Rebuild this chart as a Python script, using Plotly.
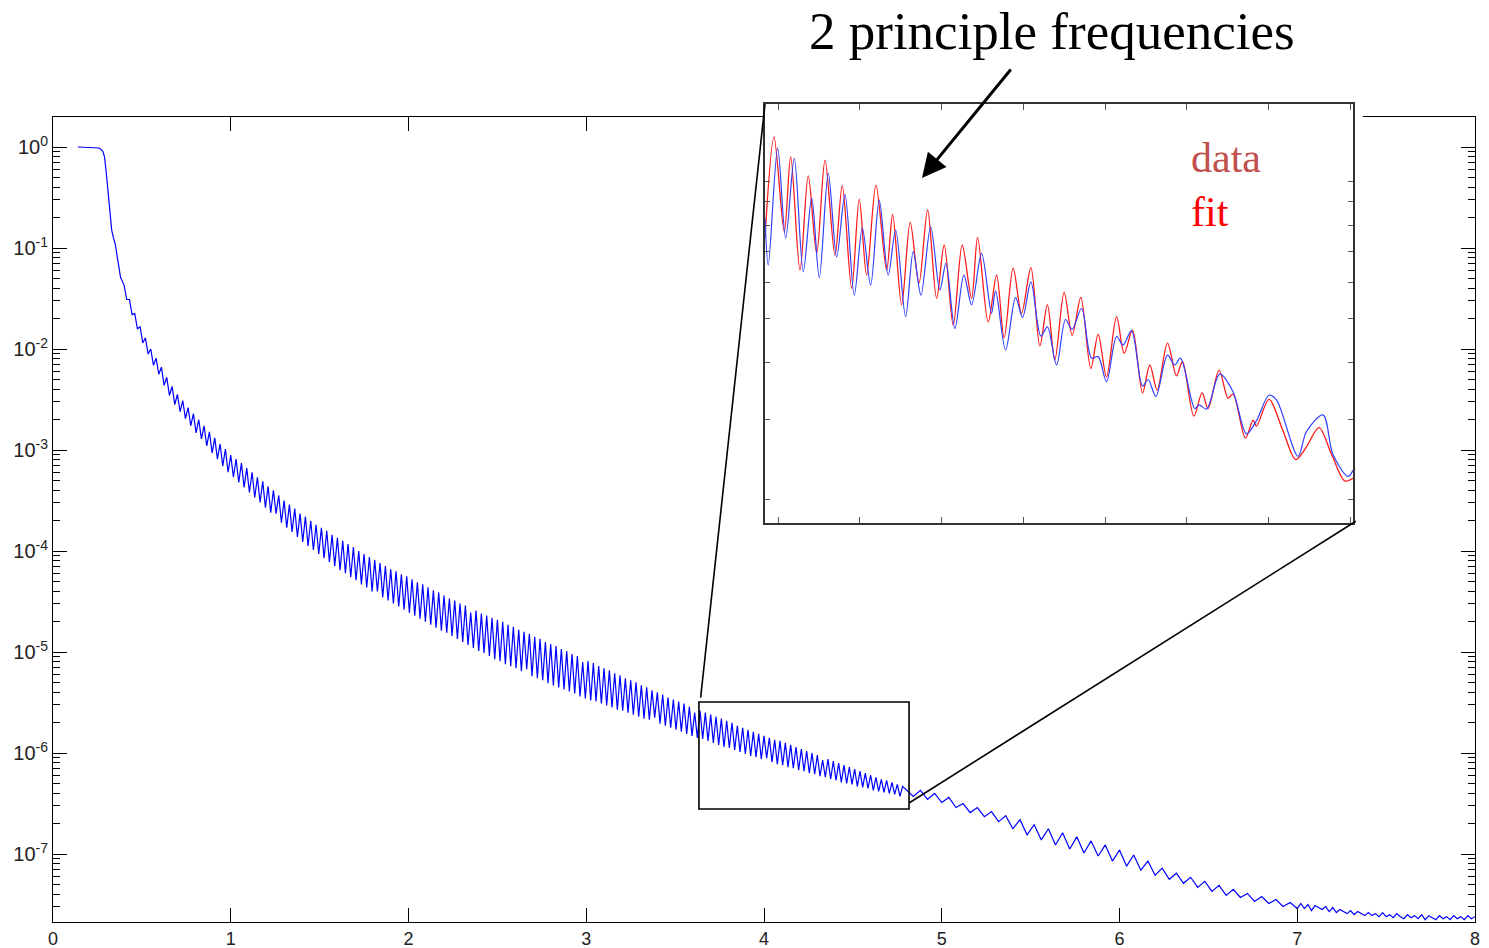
import math
import plotly.graph_objects as go

# ---------------- data ----------------
# main curve: initial plateau and steep drop
x_drop = [0.14, 0.17, 0.20, 0.23, 0.26, 0.28, 0.29, 0.30, 0.31, 0.32, 0.33, 0.34, 0.35, 0.36, 0.37, 0.38, 0.39]
log10y_drop = [0.0, -0.002, 0.0, -0.004, -0.01, -0.04, -0.10, -0.26, -0.47, -0.69, -0.82, -0.90, -0.96, -1.07, -1.20, -1.29, -1.33]

# main curve: dense oscillating decay (peak / trough alternating)
x_dense = [
    0.400, 0.415, 0.430, 0.445, 0.460, 0.475, 0.490, 0.505, 0.520, 0.535,
    0.550, 0.565, 0.580, 0.595, 0.610, 0.625, 0.640, 0.655, 0.670, 0.685,
    0.700, 0.715, 0.730, 0.745, 0.760, 0.775, 0.790, 0.805, 0.820, 0.835,
    0.850, 0.865, 0.880, 0.895, 0.910, 0.925, 0.940, 0.955, 0.970, 0.985,
    1.000, 1.015, 1.030, 1.045, 1.060, 1.075, 1.090, 1.105, 1.120, 1.135,
    1.150, 1.165, 1.180, 1.195, 1.210, 1.225, 1.240, 1.255, 1.270, 1.285,
    1.300, 1.315, 1.330, 1.345, 1.360, 1.375, 1.390, 1.405, 1.420, 1.435,
    1.450, 1.465, 1.480, 1.495, 1.510, 1.525, 1.540, 1.555, 1.570, 1.585,
    1.600, 1.615, 1.630, 1.645, 1.660, 1.675, 1.690, 1.705, 1.720, 1.735,
    1.750, 1.765, 1.780, 1.795, 1.810, 1.825, 1.840, 1.855, 1.870, 1.885,
    1.900, 1.915, 1.930, 1.945, 1.960, 1.975, 1.990, 2.005, 2.020, 2.035,
    2.050, 2.065, 2.080, 2.095, 2.110, 2.125, 2.140, 2.155, 2.170, 2.185,
    2.200, 2.215, 2.230, 2.245, 2.260, 2.275, 2.290, 2.305, 2.320, 2.335,
    2.350, 2.365, 2.380, 2.395, 2.410, 2.425, 2.440, 2.455, 2.470, 2.485,
    2.500, 2.515, 2.530, 2.545, 2.560, 2.575, 2.590, 2.605, 2.620, 2.635,
    2.650, 2.665, 2.680, 2.695, 2.710, 2.725, 2.740, 2.755, 2.770, 2.785,
    2.800, 2.815, 2.830, 2.845, 2.860, 2.875, 2.890, 2.905, 2.920, 2.935,
    2.950, 2.965, 2.980, 2.995, 3.010, 3.025, 3.040, 3.055, 3.070, 3.085,
    3.100, 3.115, 3.130, 3.145, 3.160, 3.175, 3.190, 3.205, 3.220, 3.235,
    3.250, 3.265, 3.280, 3.295, 3.310, 3.325, 3.340, 3.355, 3.370, 3.385,
    3.400, 3.415, 3.430, 3.445, 3.460, 3.475, 3.490, 3.505, 3.520, 3.535,
    3.550, 3.565, 3.580, 3.595, 3.610, 3.625, 3.640, 3.655, 3.670, 3.685,
    3.700, 3.715, 3.730, 3.745, 3.760, 3.775, 3.790, 3.805, 3.820, 3.835,
    3.850, 3.865, 3.880, 3.895, 3.910, 3.925, 3.940, 3.955, 3.970, 3.985,
    4.000, 4.015, 4.030, 4.045, 4.060, 4.075, 4.090, 4.105, 4.120, 4.135,
    4.150, 4.165, 4.180, 4.195, 4.210, 4.225, 4.240, 4.255, 4.270, 4.285,
    4.300, 4.315, 4.330, 4.345, 4.360, 4.375, 4.390, 4.405, 4.420, 4.435,
    4.450, 4.465, 4.480, 4.495, 4.510, 4.525, 4.540, 4.555, 4.570, 4.585,
    4.600, 4.615, 4.630, 4.645, 4.660, 4.675, 4.690, 4.705, 4.720, 4.735,
    4.750, 4.765, 4.780,
]
log10y_dense = [
    -1.37, -1.51, -1.51, -1.66, -1.65, -1.80, -1.78, -1.94, -1.89, -2.05,
    -2.00, -2.16, -2.09, -2.25, -2.18, -2.36, -2.28, -2.46, -2.37, -2.55,
    -2.45, -2.62, -2.51, -2.69, -2.58, -2.76, -2.64, -2.83, -2.70, -2.89,
    -2.76, -2.96, -2.82, -3.03, -2.88, -3.09, -2.94, -3.16, -2.99, -3.22,
    -3.05, -3.27, -3.09, -3.32, -3.13, -3.37, -3.18, -3.42, -3.22, -3.47,
    -3.27, -3.52, -3.31, -3.57, -3.36, -3.62, -3.40, -3.63, -3.45, -3.72,
    -3.50, -3.77, -3.54, -3.81, -3.58, -3.86, -3.63, -3.91, -3.66, -3.95,
    -3.70, -3.99, -3.74, -4.03, -3.77, -4.07, -3.80, -4.11, -3.84, -4.15,
    -3.87, -4.19, -3.90, -4.22, -3.93, -4.26, -3.96, -4.29, -4.00, -4.33,
    -4.03, -4.36, -4.06, -4.40, -4.09, -4.40, -4.12, -4.46, -4.15, -4.49,
    -4.18, -4.52, -4.20, -4.55, -4.23, -4.58, -4.25, -4.61, -4.28, -4.64,
    -4.31, -4.67, -4.33, -4.70, -4.36, -4.73, -4.39, -4.76, -4.41, -4.79,
    -4.44, -4.81, -4.47, -4.84, -4.49, -4.87, -4.52, -4.90, -4.54, -4.93,
    -4.61, -4.96, -4.59, -4.99, -4.62, -5.01, -4.64, -5.04, -4.66, -5.07,
    -4.68, -5.09, -4.70, -5.12, -4.73, -5.14, -4.75, -5.16, -4.78, -5.19,
    -4.80, -5.17, -4.82, -5.24, -4.85, -5.26, -4.87, -5.28, -4.90, -5.31,
    -4.92, -5.33, -4.94, -5.35, -4.97, -5.37, -4.99, -5.39, -5.02, -5.41,
    -5.04, -5.44, -5.10, -5.46, -5.09, -5.48, -5.11, -5.49, -5.14, -5.51,
    -5.16, -5.53, -5.18, -5.55, -5.21, -5.57, -5.23, -5.58, -5.26, -5.60,
    -5.28, -5.62, -5.30, -5.64, -5.33, -5.66, -5.35, -5.67, -5.38, -5.65,
    -5.40, -5.71, -5.42, -5.73, -5.45, -5.75, -5.47, -5.77, -5.49, -5.79,
    -5.51, -5.81, -5.54, -5.83, -5.60, -5.85, -5.58, -5.86, -5.60, -5.88,
    -5.62, -5.90, -5.64, -5.92, -5.66, -5.94, -5.68, -5.95, -5.70, -5.97,
    -5.73, -5.99, -5.75, -6.01, -5.77, -6.03, -5.79, -6.04, -5.81, -6.06,
    -5.83, -6.05, -5.85, -6.09, -5.87, -6.11, -5.88, -6.12, -5.90, -6.14,
    -5.92, -6.15, -5.94, -6.17, -5.96, -6.18, -5.98, -6.20, -6.00, -6.21,
    -6.02, -6.23, -6.07, -6.24, -6.06, -6.26, -6.08, -6.27, -6.10, -6.29,
    -6.12, -6.30, -6.14, -6.31, -6.16, -6.33, -6.18, -6.34, -6.20, -6.35,
    -6.22, -6.37, -6.24, -6.38, -6.26, -6.39, -6.27, -6.40, -6.29, -6.41,
    -6.31, -6.43, -6.33,
]

# main curve: slower ripple after the zoom box
x_tail = [
    4.84, 4.88, 4.92, 4.96, 5.00, 5.04, 5.08, 5.12, 5.16, 5.20,
    5.24, 5.28, 5.32, 5.36, 5.40, 5.44, 5.48, 5.52, 5.56, 5.60,
    5.64, 5.68, 5.72, 5.76, 5.80, 5.84, 5.88, 5.92, 5.96, 6.00,
    6.04, 6.08, 6.12, 6.16, 6.20, 6.24, 6.28, 6.32, 6.36, 6.40,
    6.44, 6.48, 6.52, 6.56, 6.60, 6.64, 6.68, 6.72, 6.76, 6.80,
    6.84, 6.88, 6.92, 6.96, 7.00,
]
log10y_tail = [
    -6.43, -6.37, -6.46, -6.40, -6.49, -6.44, -6.54, -6.50, -6.59, -6.54,
    -6.63, -6.58, -6.68, -6.62, -6.75, -6.66, -6.81, -6.71, -6.86, -6.75,
    -6.91, -6.79, -6.95, -6.83, -6.99, -6.87, -7.02, -6.91, -7.07, -6.96,
    -7.12, -7.01, -7.16, -7.07, -7.21, -7.14, -7.25, -7.19, -7.29, -7.23,
    -7.33, -7.27, -7.37, -7.31, -7.41, -7.35, -7.43, -7.39, -7.47, -7.42,
    -7.49, -7.45, -7.52, -7.48, -7.54,
]

# main curve: noise floor
x_floor = [
    7.02, 7.04, 7.06, 7.08, 7.10, 7.12, 7.14, 7.16, 7.18, 7.20,
    7.22, 7.24, 7.26, 7.28, 7.30, 7.32, 7.34, 7.36, 7.38, 7.40,
    7.42, 7.44, 7.46, 7.48, 7.50, 7.52, 7.54, 7.56, 7.58, 7.60,
    7.62, 7.64, 7.66, 7.68, 7.70, 7.72, 7.74, 7.76, 7.78, 7.80,
    7.82, 7.84, 7.86, 7.88, 7.90, 7.92, 7.94, 7.96, 7.98, 8.00,
]
log10y_floor = [
    -7.49, -7.54, -7.50, -7.56, -7.51, -7.53, -7.55, -7.52, -7.57, -7.53,
    -7.58, -7.55, -7.57, -7.59, -7.56, -7.60, -7.57, -7.59, -7.61, -7.58,
    -7.61, -7.59, -7.62, -7.58, -7.62, -7.60, -7.63, -7.59, -7.62, -7.64,
    -7.60, -7.63, -7.61, -7.64, -7.60, -7.65, -7.61, -7.63, -7.65, -7.61,
    -7.64, -7.62, -7.65, -7.61, -7.64, -7.62, -7.65, -7.61, -7.64, -7.62,
]

# inset: measured data (blue) and two-frequency fit (red); inset units are arbitrary
inset_x_data = [
    -0.159, -0.119, -0.004, 0.094, 0.199, 0.309, 0.412, 0.505, 0.615, 0.718,
    0.819, 0.933, 1.031, 1.133, 1.238, 1.348, 1.439, 1.561, 1.654, 1.748,
    1.867, 1.980, 2.054, 2.164, 2.274, 2.368, 2.490, 2.612, 2.661, 2.784,
    2.906, 2.991, 3.093, 3.215, 3.295, 3.407, 3.517, 3.598, 3.713, 3.835,
    3.916, 4.018, 4.141, 4.221, 4.324, 4.459, 4.527, 4.621, 4.764, 4.853,
    4.923, 5.098, 5.150, 5.241, 5.403, 5.566, 5.730, 5.852, 6.006, 6.097,
    6.361, 6.463, 6.666, 6.789, 6.972, 7.033,
]
inset_y_data = [
    8.31, 6.54, 11.80, 7.49, 11.21, 6.33, 9.17, 6.14, 10.40, 6.82,
    9.35, 5.62, 7.90, 5.91, 9.08, 6.22, 7.81, 5.04, 7.00, 5.62,
    7.94, 5.77, 6.60, 4.75, 6.22, 5.35, 6.94, 5.13, 5.74, 4.26,
    5.55, 5.02, 6.01, 4.57, 4.79, 3.95, 4.97, 4.73, 5.26, 4.09,
    4.12, 3.63, 4.56, 4.37, 4.70, 3.55, 3.67, 3.37, 4.15, 3.95,
    4.09, 3.17, 3.23, 3.16, 3.77, 3.45, 2.79, 2.98, 3.39, 3.31,
    2.49, 2.82, 3.07, 2.51, 2.25, 2.32,
]
inset_x_fit = [
    -0.159, -0.049, 0.077, 0.155, 0.269, 0.370, 0.473, 0.575, 0.697, 0.786,
    0.901, 0.994, 1.084, 1.198, 1.329, 1.402, 1.512, 1.617, 1.724, 1.830,
    1.940, 2.033, 2.143, 2.253, 2.368, 2.441, 2.571, 2.674, 2.766, 2.876,
    2.979, 3.093, 3.203, 3.295, 3.386, 3.500, 3.598, 3.704, 3.826, 3.916,
    4.018, 4.141, 4.234, 4.336, 4.459, 4.548, 4.637, 4.764, 4.874, 4.947,
    5.086, 5.187, 5.260, 5.395, 5.505, 5.566, 5.718, 5.811, 5.852, 6.006,
    6.174, 6.333, 6.463, 6.617, 6.773, 6.932, 7.033,
]
inset_y_fit = [
    7.50, 12.49, 7.74, 11.31, 6.38, 10.26, 6.94, 11.12, 6.88, 9.77,
    5.82, 9.13, 6.22, 9.80, 6.38, 8.45, 5.35, 8.12, 5.97, 8.64,
    5.53, 7.24, 4.83, 7.24, 5.53, 7.51, 4.91, 6.22, 4.53, 6.44,
    5.13, 6.46, 4.35, 5.36, 4.05, 5.70, 4.59, 5.56, 3.88, 4.61,
    3.72, 5.04, 4.19, 4.71, 3.43, 3.95, 3.48, 4.41, 3.74, 4.02,
    3.05, 3.43, 3.17, 3.85, 3.34, 3.41, 2.73, 2.99, 2.90, 3.32,
    2.84, 2.45, 2.61, 2.88, 2.51, 2.20, 2.23,
]

# zoomed region of the main plot shown in the inset
zoom_box_x = [3.634, 4.816]
zoom_box_y = [2.79e-7, 3.2e-6]

x_tick_vals = [0, 1, 2, 3, 4, 5, 6, 7, 8]
y_tick_exponents = [0, -1, -2, -3, -4, -5, -6, -7]

title_text = "2 principle frequencies"
legend_data_text = "data"
legend_fit_text = "fit"

# ---------------- layout geometry ----------------
# the page body keeps its default 8 px margin, so the figure is sized / placed to compensate
OFF = 8
W, H = 1489 - OFF, 948 - OFF
L, R, T, B = 53 - OFF, 14, 60 - OFF, 26
PW, PH = W - L - R, H - T - B


def pxx(px):
    """screen pixel x -> paper x"""
    return (px - OFF - L) / PW


def pxy(py):
    """screen pixel y -> paper y"""
    return (H - B - (py - OFF)) / PH


MAIN_YTOP = pxy(117)
Y_RANGE = [-7.673, 0.297]
X_RANGE = [0, 8]
INSET_XDOM = [pxx(765), pxx(1353)]
INSET_YDOM = [pxy(523), pxy(104)]

main_x = x_drop + x_dense + x_tail + x_floor
main_y = [10 ** v for v in (log10y_drop + log10y_dense + log10y_tail + log10y_floor)]

fig = go.Figure()
fig.add_trace(go.Scatter(
    x=main_x, y=main_y, mode="lines",
    line=dict(color="#0000ff", width=1.2),
    xaxis="x", yaxis="y", showlegend=False, hoverinfo="skip",
))
fig.add_trace(go.Scatter(
    x=inset_x_fit, y=inset_y_fit, mode="lines",
    line=dict(color="#ff1a1a", width=1.3, shape="spline", smoothing=0.9),
    xaxis="x2", yaxis="y2", showlegend=False, hoverinfo="skip",
))
fig.add_trace(go.Scatter(
    x=inset_x_data, y=inset_y_data, mode="lines",
    line=dict(color="#3040ff", width=1.2, shape="spline", smoothing=0.9),
    xaxis="x2", yaxis="y2", showlegend=False, hoverinfo="skip",
))

x_tick_font = dict(family="Liberation Sans, Arial, sans-serif", size=18, color="#222222")
y_tick_font = dict(family="Liberation Sans, Arial, sans-serif", size=20, color="#222222")
minor_vals = [k * 10.0 ** e for e in range(-9, 1) for k in range(2, 10)]

fig.update_layout(
    width=W, height=H,
    margin=dict(l=L, r=R, t=T, b=B, pad=0, autoexpand=False),
    paper_bgcolor="white", plot_bgcolor="white",
    hovermode=False,
    xaxis=dict(
        domain=[0, 1], range=X_RANGE, anchor="y", automargin=False,
        tickmode="array", tickvals=x_tick_vals,
        ticks="inside", ticklen=14, tickwidth=1, tickcolor="black",
        showline=True, linecolor="black", linewidth=1, mirror="ticks",
        showgrid=False, zeroline=False, tickfont=x_tick_font,
    ),
    yaxis=dict(
        domain=[0, MAIN_YTOP], type="log", range=Y_RANGE, anchor="x", automargin=False,
        tickmode="array", tickvals=[10.0 ** e for e in y_tick_exponents],
        ticktext=["10<sup>%d</sup>" % e for e in y_tick_exponents],
        ticks="inside", ticklen=14, tickwidth=1, tickcolor="black",
        minor=dict(tickmode="array", tickvals=minor_vals, ticks="inside",
                   ticklen=7, tickwidth=1, tickcolor="black", showgrid=False),
        showline=True, linecolor="black", linewidth=1, mirror="ticks",
        showgrid=False, zeroline=False, tickfont=y_tick_font,
    ),
    xaxis2=dict(
        domain=INSET_XDOM, range=[-0.159, 7.033], anchor="y2", automargin=False,
        tickmode="array", tickvals=[0, 1, 2, 3, 4, 5, 6, 7],
        ticks="inside", ticklen=6, tickwidth=1, tickcolor="#555555",
        showticklabels=False,
        showline=True, linecolor="#333333", linewidth=1.5, mirror="ticks",
        showgrid=False, zeroline=False,
    ),
    yaxis2=dict(
        domain=INSET_YDOM, type="log", range=[0.25, 1.169], anchor="x2", automargin=False,
        tickmode="array", tickvals=[2, 3, 4, 5, 6, 7, 8, 9, 10],
        ticks="inside", ticklen=5, tickwidth=1, tickcolor="#555555",
        showticklabels=False,
        showline=True, linecolor="#333333", linewidth=1.5, mirror="ticks",
        showgrid=False, zeroline=False,
    ),
)


def main_to_paper(xv, yv):
    px = (xv - X_RANGE[0]) / (X_RANGE[1] - X_RANGE[0])
    py = MAIN_YTOP * (math.log10(yv) - Y_RANGE[0]) / (Y_RANGE[1] - Y_RANGE[0])
    return px, py


tl = main_to_paper(zoom_box_x[0], zoom_box_y[1])
br = main_to_paper(zoom_box_x[1], zoom_box_y[0])

shapes = [
    dict(type="rect", xref="paper", yref="paper",
         x0=tl[0], x1=br[0], y0=br[1], y1=tl[1],
         line=dict(color="black", width=1.6), fillcolor="rgba(0,0,0,0)", layer="above"),
    dict(type="line", xref="paper", yref="paper",
         x0=tl[0] + 0.0012, y0=tl[1] + 0.005, x1=INSET_XDOM[0], y1=INSET_YDOM[1],
         line=dict(color="black", width=1.6), layer="above"),
    dict(type="line", xref="paper", yref="paper",
         x0=br[0], y0=br[1] + 0.007, x1=INSET_XDOM[1] + 0.002, y1=INSET_YDOM[0] + 0.002,
         line=dict(color="black", width=1.6), layer="above"),
    # white gap right of the inset that hides the main frame's top edge
    dict(type="rect", xref="paper", yref="paper",
         x0=pxx(1355), x1=pxx(1363), y0=pxy(123), y1=pxy(110),
         line=dict(width=0), fillcolor="white", layer="above"),
]
fig.update_layout(shapes=shapes)

serif = "Liberation Serif, Times New Roman, serif"
fig.update_layout(annotations=[
    dict(text=title_text, xref="paper", yref="paper",
         x=pxx(1051.5), y=pxy(31), xanchor="center", yanchor="middle",
         showarrow=False, font=dict(family=serif, size=53, color="black")),
    dict(text="", xref="paper", yref="paper", x=pxx(922), y=pxy(178),
         ax=90, ay=-110, axref="pixel", ayref="pixel",
         showarrow=True, arrowhead=2, arrowsize=1.6, arrowwidth=3,
         arrowcolor="black", standoff=0, startstandoff=0),
    dict(text=legend_data_text, xref="paper", yref="paper",
         x=pxx(1189), y=pxy(158), xanchor="left", yanchor="middle",
         showarrow=False, font=dict(family=serif, size=42, color="#c0504d")),
    dict(text=legend_fit_text, xref="paper", yref="paper",
         x=pxx(1189), y=pxy(212), xanchor="left", yanchor="middle",
         showarrow=False, font=dict(family=serif, size=42, color="#ff0000")),
])

fig.write_html("out.html")
